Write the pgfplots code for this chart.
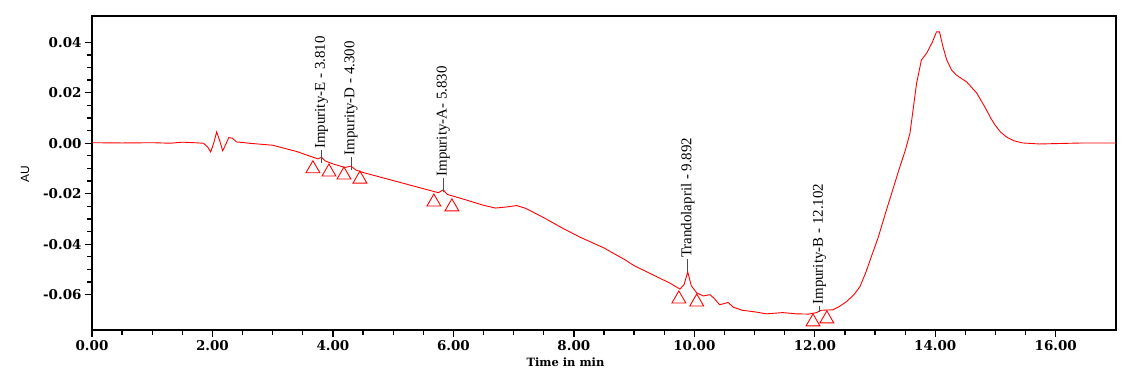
\documentclass[border=0pt]{standalone}
\usepackage{fontspec}
\setmainfont{Liberation Serif}
\newfontfamily\tickfont{DejaVu Serif}
\newfontfamily\sansf{Liberation Sans}
\usepackage{pgfplots}
\pgfplotsset{compat=1.18}
\begin{document}
\begin{tikzpicture}
\useasboundingbox (-92bp,-53bp) rectangle (1051bp,330bp);
\begin{axis}[
  at={(0,0)}, anchor=south west,
  scale only axis, width=1024bp, height=314bp,
  xmin=0, xmax=17, ymin=-0.074, ymax=0.0504,
  clip=false,
  axis line style={line width=1.3bp},
  tick align=outside, tick pos=left,
  xtick={0,2,4,6,8,10,12,14,16},
  ytick={-0.06,-0.04,-0.02,0,0.02,0.04},
  minor x tick num=3, minor y tick num=3,
  major tick length=7bp, minor tick length=5bp,
  every tick/.style={black, line width=1.3bp},
  scaled x ticks=false, scaled y ticks=false,
  /pgf/number format/fixed, /pgf/number format/fixed zerofill,
  /pgf/number format/precision=2, /pgf/number format/assume math mode=true,
  ticklabel style={font=\tickfont\bfseries\fontsize{13.5}{15}\selectfont},
  xlabel={Time in min},
  xlabel style={at={(rel axis cs:0.4624,0)}, anchor=center, yshift=-32bp, font=\tickfont\bfseries\fontsize{11.5}{13}\selectfont},
  ylabel={AU},
  ylabel style={at={(rel axis cs:0,0.497)}, anchor=center, yshift=67bp, font=\sansf\fontsize{12}{14}\selectfont},
]
\addplot[red, line width=0.9bp] coordinates {
(0,0.0002) (0.5,0.0001) (1.0,0.0002) (1.3,0.0000) (1.5,0.0004) (1.7,0.0002) (1.85,0.0000)
(1.92,-0.0015) (1.97,-0.0035) (2.02,0.000) (2.07,0.0045) (2.12,0.001) (2.17,-0.003)
(2.22,-0.0005) (2.27,0.0022) (2.33,0.002) (2.4,0.0005) (2.5,0.0003)
(2.6,0.0) (3.0,-0.0008) (3.4,-0.0033) (3.7,-0.0058)
(3.75,-0.0062) (3.81,-0.0056) (3.87,-0.0070) (4.0,-0.0082) (4.2,-0.0096) (4.3,-0.0091)
(4.38,-0.0106) (4.5,-0.0116)
(5.0,-0.0148) (5.5,-0.0180) (5.75,-0.0196) (5.83,-0.0185) (5.9,-0.0203) (6.2,-0.0224)
(6.5,-0.0246) (6.7,-0.0257) (6.9,-0.0252) (7.05,-0.0247) (7.2,-0.0258) (7.5,-0.0295)
(7.8,-0.0335) (8.1,-0.0372) (8.5,-0.0415) (8.85,-0.0462) (8.9,-0.0470) (9.0,-0.0485)
(9.3,-0.0520) (9.6,-0.0555) (9.76,-0.0578) (9.83,-0.0560) (9.89,-0.0510) (9.95,-0.0565)
(10.04,-0.0593) (10.15,-0.0605) (10.26,-0.0600) (10.33,-0.0615) (10.42,-0.0640)
(10.56,-0.0631) (10.65,-0.0650) (10.8,-0.0662) (11.0,-0.0668) (11.2,-0.0676)
(11.47,-0.0671) (11.7,-0.0676) (11.9,-0.0677) (12.03,-0.0671) (12.1,-0.0662)
(12.3,-0.0660) (12.4,-0.0648) (12.53,-0.0627) (12.65,-0.0600) (12.75,-0.0568)
(12.85,-0.0510) (12.96,-0.0435) (13.05,-0.0375) (13.19,-0.0264) (13.3,-0.0180)
(13.41,-0.0095) (13.5,-0.0030) (13.58,0.004) (13.69,0.0238) (13.77,0.033) (13.86,0.0358)
(13.95,0.040) (14.02,0.0441) (14.07,0.0441) (14.13,0.038) (14.19,0.033) (14.27,0.029)
(14.35,0.0270) (14.52,0.0243) (14.6,0.0222) (14.69,0.0198) (14.77,0.0165) (14.85,0.0132)
(14.92,0.0100) (14.99,0.0073) (15.08,0.0045) (15.18,0.0025) (15.3,0.0010) (15.45,0.0001)
(15.73,-0.0003) (16.45,0.0001) (17,0.0001)
};
\addplot[only marks, mark=triangle, mark size=8bp, red, mark options={line width=0.9bp}] coordinates {
(3.668,-0.0101) (3.934,-0.0114) (4.183,-0.0126) (4.448,-0.0142) (5.676,-0.0233)
(5.975,-0.0252) (9.743,-0.0617) (10.04,-0.0629) (11.97,-0.0708) (12.2,-0.0696)
};
\begin{scope}[every node/.style={rotate=90, anchor=west, inner sep=1bp, font=\fontsize{15}{17}\selectfont}]
\draw[black!70, line width=0.6bp] (axis cs:3.81,-0.0078) -- (axis cs:3.81,-0.0027);
\node at (axis cs:3.81,-0.0027) {Impurity-E - 3.810};
\draw[black!70, line width=0.6bp] (axis cs:4.30,-0.0106) -- (axis cs:4.30,-0.0053);
\node at (axis cs:4.30,-0.0053) {Impurity-D - 4.300};
\draw[black!70, line width=0.6bp] (axis cs:5.83,-0.0194) -- (axis cs:5.83,-0.0137);
\node at (axis cs:5.83,-0.0137) {Impurity-A- 5.830};
\draw[black!70, line width=0.6bp] (axis cs:9.89,-0.0510) -- (axis cs:9.89,-0.0459);
\node at (axis cs:9.89,-0.0459) {Trandolapril - 9.892};
\draw[black!70, line width=0.6bp] (axis cs:12.08,-0.0668) -- (axis cs:12.08,-0.0644);
\node at (axis cs:12.08,-0.0644) {Impurity-B - 12.102};
\end{scope}
\end{axis}
\end{tikzpicture}
\end{document}
